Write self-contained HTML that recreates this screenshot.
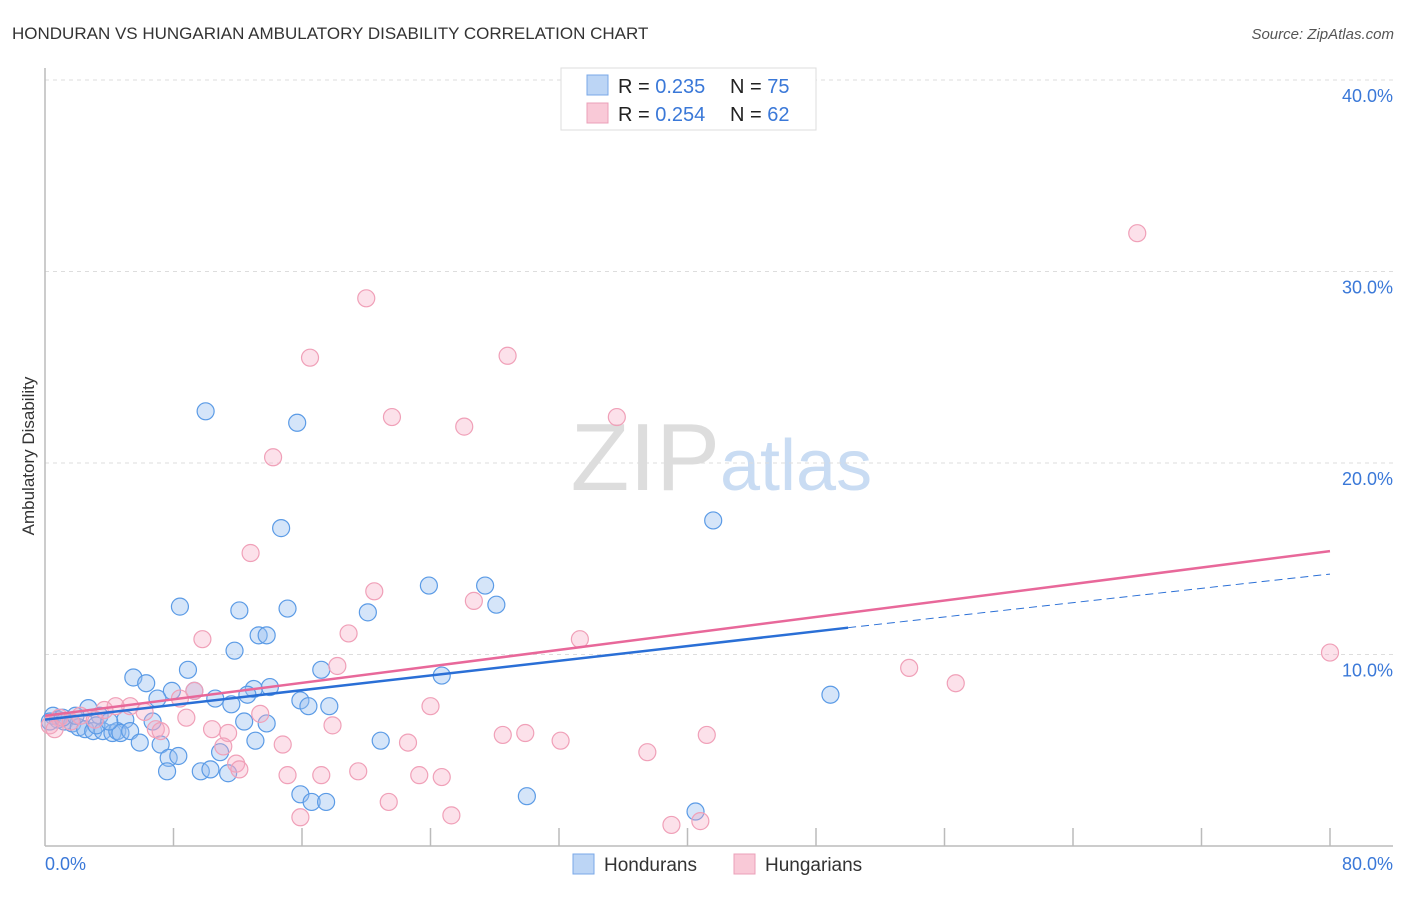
<!DOCTYPE html>
<html><head><meta charset="utf-8"><style>
body{margin:0;background:#fff;font-family:"Liberation Sans",sans-serif;}
svg text{font-family:"Liberation Sans",sans-serif;}
</style></head><body>
<svg id="chart" width="1406" height="892">
<text x="12" y="39" font-size="17" fill="#333">HONDURAN VS HUNGARIAN AMBULATORY DISABILITY CORRELATION CHART</text>
<text x="1394" y="39" font-size="15" fill="#555" font-style="italic" text-anchor="end">Source: ZipAtlas.com</text>
<text x="720" y="490" font-size="96" fill="#ddd" text-anchor="end" font-family="Liberation Serif">ZIP</text>
<text x="720" y="490" font-size="72" fill="#c9dcf3">atlas</text>
<text transform="translate(34,456) rotate(-90)" font-size="17" fill="#333" text-anchor="middle">Ambulatory Disability</text>
<g id="grid"></g><g id="axes"></g><g id="pts"></g><g id="lines"></g>
<g>
<rect x="561" y="68" width="255" height="62" fill="#fff" stroke="#ddd"/>
<rect x="587" y="75" width="21" height="20" fill="#bcd5f5" stroke="#7aa8e8"/>
<rect x="587" y="103" width="21" height="20" fill="#f9c9d7" stroke="#eba0b8"/>
<text x="618" y="93" font-size="20" fill="#222">R = <tspan fill="#3a78d8">0.235</tspan><tspan x="730">N = </tspan><tspan fill="#3a78d8">75</tspan></text>
<text x="618" y="121" font-size="20" fill="#222">R = <tspan fill="#3a78d8">0.254</tspan><tspan x="730">N = </tspan><tspan fill="#3a78d8">62</tspan></text>
</g>
<g>
<rect x="573" y="854" width="21" height="20" fill="#bcd5f5" stroke="#7aa8e8"/>
<text x="604" y="871" font-size="19" fill="#333">Hondurans</text>
<rect x="734" y="854" width="21" height="20" fill="#f9c9d7" stroke="#eba0b8"/>
<text x="765" y="871" font-size="19" fill="#333">Hungarians</text>
</g>
</svg>
<script>
const yTicks=[10,20,30,40];
const yTickLabels=["10.0%","20.0%","30.0%","40.0%"];
const xTicks=[8,16,24,32,40,48,56,64,72,80];
const blueX=[10.0,15.7,14.7,41.6,23.9,27.4,28.1,8.4,12.1,15.1,20.1,13.3,13.8,11.8,8.9,17.2,24.7,5.5,6.3,7.9,9.3,13.0,14.0,7.0,10.6,12.6,15.9,16.4,17.7,11.6,48.9,2.7,3.4,5.0,6.7,12.4,13.8,0.5,0.8,1.2,1.7,2.1,2.5,3.0,3.6,4.2,4.5,4.7,5.3,0.3,1.1,5.9,7.2,13.1,20.9,7.7,8.3,10.9,7.6,9.7,10.3,11.4,15.9,16.6,17.5,30.0,40.5,1.9,3.2,4.0];
const blueY=[22.7,22.1,16.6,17.0,13.6,13.6,12.6,12.5,12.3,12.4,12.2,11.0,11.0,10.2,9.2,9.2,8.9,8.8,8.5,8.1,8.1,8.2,8.3,7.7,7.7,7.9,7.6,7.3,7.3,7.4,7.9,7.2,6.8,6.6,6.5,6.5,6.4,6.8,6.6,6.5,6.4,6.2,6.1,6.0,6.0,5.9,6.0,5.9,6.0,6.5,6.7,5.4,5.3,5.5,5.5,4.6,4.7,4.9,3.9,3.9,4.0,3.8,2.7,2.3,2.3,2.6,1.8,6.8,6.3,6.5];
const pinkX=[68.0,20.0,16.5,28.8,21.6,35.6,26.1,14.2,12.8,20.5,26.7,18.9,9.8,33.3,80.0,53.8,18.2,56.7,9.3,8.4,24.0,5.3,4.4,3.7,6.2,8.8,13.4,17.9,0.9,0.3,1.6,2.2,3.1,0.6,6.9,10.4,11.4,7.2,28.5,29.9,41.2,32.1,14.8,22.6,11.1,37.5,11.9,12.1,15.1,17.2,19.5,23.3,24.7,21.4,15.9,25.3,39.0,40.8];
const pinkY=[32.0,28.6,25.5,25.6,22.4,22.4,21.9,20.3,15.3,13.3,12.8,11.1,10.8,10.8,10.1,9.3,9.4,8.5,8.1,7.7,7.3,7.3,7.3,7.1,7.0,6.7,6.9,6.3,6.7,6.3,6.5,6.8,6.6,6.1,6.1,6.1,5.9,6.0,5.8,5.9,5.8,5.5,5.3,5.4,5.2,4.9,4.3,4.0,3.7,3.7,3.9,3.7,3.6,2.3,1.5,1.6,1.1,1.3];
const blueTrend=[6.6,11.4,14.2]; // at x=0, 50 (solid end), 80
const pinkTrend=[6.8,15.4]; // at x=0, 80
const NS="http://www.w3.org/2000/svg";
const X=v=>45+v*1285/80, Y=v=>846-v*19.15;
function mk(tag,attrs,parent){const e=document.createElementNS(NS,tag);for(const k in attrs)e.setAttribute(k,attrs[k]);document.getElementById(parent).appendChild(e);return e;}
yTicks.forEach((t,i)=>{
 const g=mk('line',{x1:45,x2:1393,y1:Y(t),y2:Y(t),stroke:'#ddd','stroke-dasharray':'4,4'},'grid');
 
 
 const l=mk('text',{x:1393,y:Y(t)+22,'font-size':18,fill:'#3a78d8','text-anchor':'end'},'grid');
 l.textContent=yTickLabels[i];
 
 
});
const ax=mk('line',{x1:45,x2:1393,y1:846,y2:846,stroke:'#bbb','stroke-width':1.5},'axes');


const ay=mk('line',{x1:45,x2:45,y1:68,y2:846,stroke:'#bbb','stroke-width':1.5},'axes');


xTicks.forEach(t=>{const k=mk('line',{x1:X(t),x2:X(t),y1:828,y2:846,stroke:'#bbb','stroke-width':1.5},'axes');
 
 });
const x0=mk('text',{x:45,y:870,'font-size':18,fill:'#3a78d8'},'axes');x0.textContent='0.0%';


const x1=mk('text',{x:1393,y:870,'font-size':18,fill:'#3a78d8','text-anchor':'end'},'axes');x1.textContent='80.0%';


blueX.forEach((v,i)=>{const c=mk('circle',{cx:X(v),cy:Y(blueY[i]),r:8.5,fill:'rgba(150,190,240,0.4)',stroke:'#5b9be6','stroke-width':1.2},'pts');
 
 });
pinkX.forEach((v,i)=>{const c=mk('circle',{cx:X(v),cy:Y(pinkY[i]),r:8.5,fill:'rgba(245,170,195,0.35)',stroke:'#f0a0b8','stroke-width':1.2},'pts');
 
 });
const b1=mk('line',{x1:X(0),y1:Y(blueTrend[0]),x2:X(50),y2:Y(blueTrend[1]),stroke:'#2a6fd6','stroke-width':2.5},'lines');


const b2=mk('line',{x1:X(50),y1:Y(blueTrend[1]),x2:X(80),y2:Y(blueTrend[2]),stroke:'#2a6fd6','stroke-width':1,'stroke-dasharray':'8,5'},'lines');


const p1=mk('line',{x1:X(0),y1:Y(pinkTrend[0]),x2:X(80),y2:Y(pinkTrend[1]),stroke:'#e8689a','stroke-width':2.5},'lines');


</script>
</body></html>
